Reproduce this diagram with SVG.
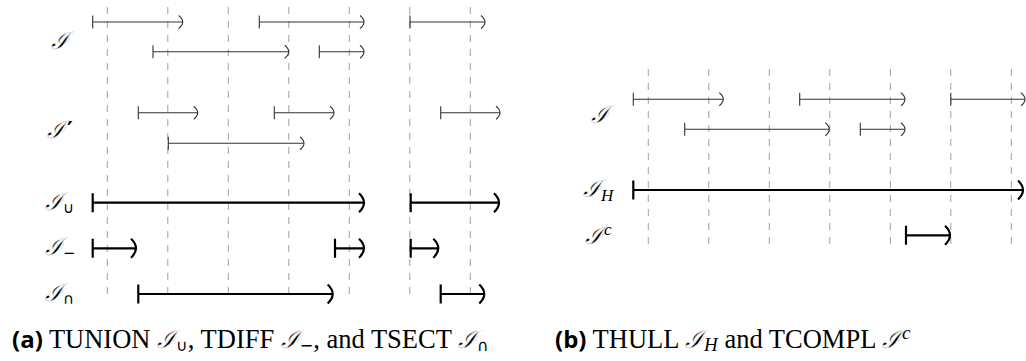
<svg xmlns="http://www.w3.org/2000/svg" width="1026" height="361" viewBox="0 0 1026 361">
<style>
.grid line{stroke:#a0a0a0;stroke-width:1;stroke-dasharray:7 7;}
.thin path{fill:none;stroke:#333;stroke-width:1.1;}
.thick path{fill:none;stroke:#000;stroke-width:2.2;}
.lbl{font-family:"DejaVu Serif","Liberation Serif",serif;font-style:italic;font-size:24px;fill:#000;stroke:#fff;stroke-width:0.45;}
.sub{font-family:"DejaVu Sans",sans-serif;font-style:normal;font-size:15px;stroke:none;}
.mi{font-family:"Liberation Serif",serif;font-style:italic;font-size:17px;stroke:none;}
.pr{font-family:"DejaVu Sans",sans-serif;font-style:normal;font-weight:bold;font-size:22px;stroke:none;}
.cap{font-family:"Liberation Serif","DejaVu Serif",serif;font-size:26.5px;fill:#000;}
.capb{font-family:"Open Sans","DejaVu Sans",sans-serif;font-weight:bold;font-size:24px;}
.capm{font-family:"DejaVu Serif","Liberation Serif",serif;font-style:italic;font-size:25px;stroke:#fff;stroke-width:0.45;}
.caps{font-family:"DejaVu Sans",sans-serif;font-size:16px;}
.capi{font-family:"Liberation Serif",serif;font-style:italic;font-size:19px;}
</style>
<rect width="1026" height="361" fill="#fff"/>
<g id="panel-a">
<g id="grid-a" class="grid">
<line x1="107.3" y1="7" x2="107.3" y2="300"/>
<line x1="167.8" y1="7" x2="167.8" y2="300"/>
<line x1="228.3" y1="7" x2="228.3" y2="300"/>
<line x1="288.8" y1="7" x2="288.8" y2="300"/>
<line x1="349.3" y1="7" x2="349.3" y2="300"/>
<line x1="409.8" y1="7" x2="409.8" y2="300"/>
<line x1="470.3" y1="7" x2="470.3" y2="300"/>
</g>
<g id="a-I" class="thin">
<path d="M92.7 15.5V28.5M92.7 22H182.7M178.7 15.5Q186.7 22 178.7 28.5"/>
<path d="M259.3 15.5V28.5M259.3 22H364M360 15.5Q368 22 360 28.5"/>
<path d="M410 15.5V28.5M410 22H485M481 15.5Q489 22 481 28.5"/>
<path d="M153 45.2V58.2M153 51.7H288.7M284.7 45.2Q292.7 51.7 284.7 58.2"/>
<path d="M319.3 45.2V58.2M319.3 51.7H364M360 45.2Q368 51.7 360 58.2"/>
</g>
<g id="a-Iprime" class="thin">
<path d="M138.3 106.2V119.2M138.3 112.7H197.7M193.7 106.2Q201.7 112.7 193.7 119.2"/>
<path d="M274.3 106.2V119.2M274.3 112.7H334M330 106.2Q338 112.7 330 119.2"/>
<path d="M440.7 106.2V119.2M440.7 112.7H500M496 106.2Q504 112.7 496 119.2"/>
<path d="M168.3 136.8V149.8M168.3 143.3H304M300 136.8Q308 143.3 300 149.8"/>
</g>
<g id="a-union" class="thick">
<path d="M92.7 193.2V212.2M92.7 202.7H364M359 193.2Q369 202.7 359 212.2"/>
<path d="M410.7 193.2V212.2M410.7 202.7H499M494 193.2Q504 202.7 494 212.2"/>
</g>
<g id="a-diff" class="thick">
<path d="M92.7 238.8V257.8M92.7 248.3H136M131 238.8Q141 248.3 131 257.8"/>
<path d="M335 238.8V257.8M335 248.3H364M359 238.8Q369 248.3 359 257.8"/>
<path d="M410.7 238.8V257.8M410.7 248.3H438.3M433.3 238.8Q443.3 248.3 433.3 257.8"/>
</g>
<g id="a-sect" class="thick">
<path d="M138.3 284.5V303.5M138.3 294H332.7M327.7 284.5Q337.7 294 327.7 303.5"/>
<path d="M440.7 284.5V303.5M440.7 294H484.3M479.3 284.5Q489.3 294 479.3 303.5"/>
</g>
<g id="a-labels">
<text class="lbl" x="51" y="49">ℐ</text>
<text class="lbl" x="47" y="138">ℐ<tspan class="pr" dx="2" dy="-1">′</tspan></text>
<text class="lbl" x="45" y="210">ℐ<tspan class="sub" dy="3">∪</tspan></text>
<text class="lbl" x="45" y="255">ℐ<tspan class="sub" dy="3">−</tspan></text>
<text class="lbl" x="45" y="301">ℐ<tspan class="sub" dy="3">∩</tspan></text>
</g>
</g>
<g id="panel-b">
<g id="grid-b" class="grid">
<line x1="648.3" y1="69" x2="648.3" y2="250"/>
<line x1="708.8" y1="69" x2="708.8" y2="250"/>
<line x1="769.3" y1="69" x2="769.3" y2="250"/>
<line x1="829.8" y1="69" x2="829.8" y2="250"/>
<line x1="890.3" y1="69" x2="890.3" y2="250"/>
<line x1="950.8" y1="69" x2="950.8" y2="250"/>
<line x1="1011.3" y1="69" x2="1011.3" y2="250"/>
</g>
<g id="b-I" class="thin">
<path d="M633.3 92.8V105.8M633.3 99.3H723.3M719.3 92.8Q727.3 99.3 719.3 105.8"/>
<path d="M799.7 92.8V105.8M799.7 99.3H905M901 92.8Q909 99.3 901 105.8"/>
<path d="M950.8 92.8V105.8M950.8 99.3H1025M1021 92.8Q1029 99.3 1021 105.8"/>
<path d="M684.7 122.8V135.8M684.7 129.3H829.3M825.3 122.8Q833.3 129.3 825.3 135.8"/>
<path d="M860.3 122.8V135.8M860.3 129.3H905M901 122.8Q909 129.3 901 135.8"/>
</g>
<g id="b-hull" class="thick">
<path d="M633.3 180.5V199.5M633.3 190H1023M1018 180.5Q1028 190 1018 199.5"/>
</g>
<g id="b-compl" class="thick">
<path d="M906 225.8V244.8M906 235.3H950M945 225.8Q955 235.3 945 244.8"/>
</g>
<g id="b-labels">
<text class="lbl" x="591" y="123">ℐ</text>
<text class="lbl" x="583" y="197">ℐ<tspan class="mi" dy="4">H</tspan></text>
<text class="lbl" x="585" y="244">ℐ<tspan class="mi" dx="1" dy="-9">c</tspan></text>
</g>
</g>
<g id="captions">
<text class="cap" x="12" y="348"><tspan class="capb">(a)</tspan> TUNION <tspan class="capm">ℐ</tspan><tspan class="caps" dy="3">∪</tspan><tspan dy="-3">, TDIFF </tspan><tspan class="capm">ℐ</tspan><tspan class="caps" dy="3">−</tspan><tspan dy="-3">, and TSECT </tspan><tspan class="capm">ℐ</tspan><tspan class="caps" dy="3">∩</tspan></text>
<text class="cap" x="555" y="348"><tspan class="capb">(b)</tspan> THULL <tspan class="capm">ℐ</tspan><tspan class="capi" dy="3">H</tspan><tspan dy="-3"> and TCOMPL </tspan><tspan class="capm">ℐ</tspan><tspan class="capi" dx="1" dy="-9">c</tspan></text>
</g>
</svg>
